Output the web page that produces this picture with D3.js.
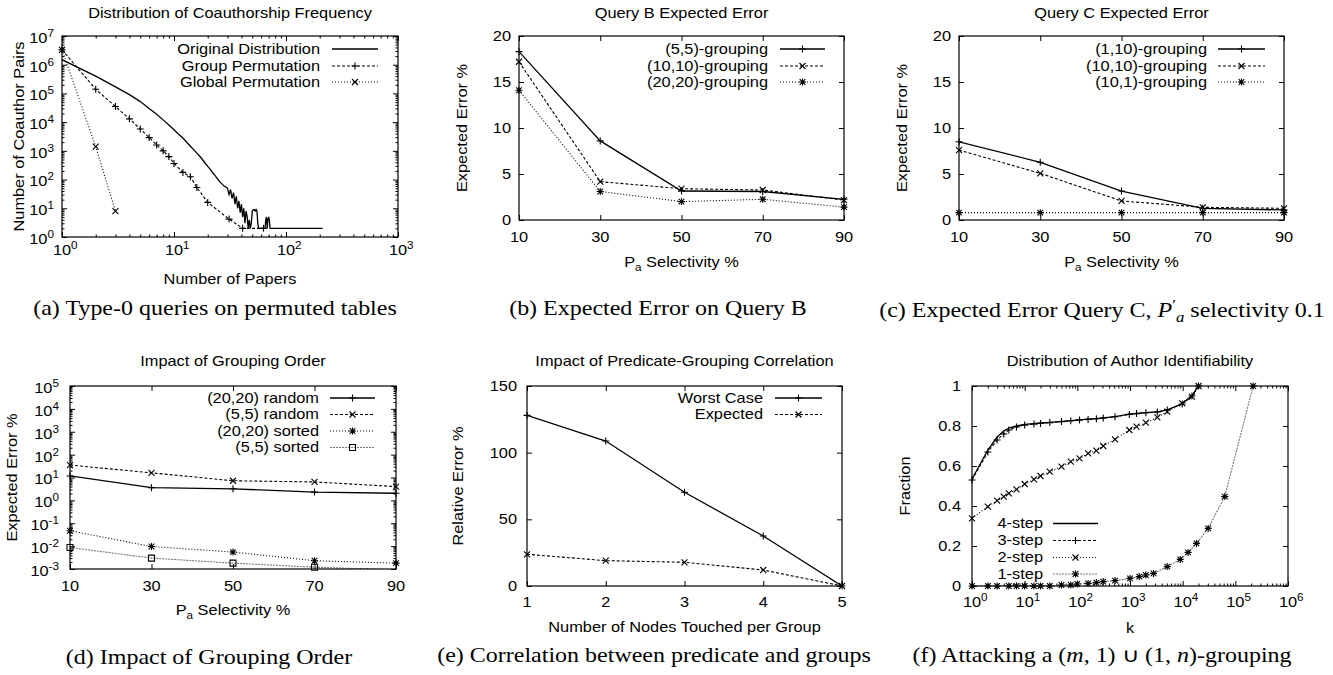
<!DOCTYPE html>
<html>
<head>
<meta charset="utf-8">
<script src="https://cdn.jsdelivr.net/npm/d3@7"></script>
<style>
body { margin: 0; background: #fff; }
svg { display: block; }
</style>
</head>
<body>
<script>
// ---- (a) coauthorship frequency
var papersOrig = [1,2,3,4,5,6,7,8,9,10,11,12,13,14,15,16,17,18,19,20,21,22,23,24,25,26,27,28,29,30,
                  31,32,33,34,35,36,37,38,39,40,41,42,43,44,45,46,47,48,49,50,51,52,53,54,55,56,57,
                  60,64,65,66,67,68,69,70,71,72,73,80,100,150,212];
var pairsOrig = [1.5e6,4.0e5,1.7e5,9.1e4,5.2e4,3.0e4,1.9e4,1.2e4,8.0e3,5.4e3,3.8e3,2.8e3,2.0e3,1.45e3,1.1e3,
                 830,650,490,370,290,230,180,145,117,95,80,68,60,55,50,
                 30,45,22,35,14,26,10,18,7,14,5,10,3,8,5,2,4,2,3,8,9,9,8,9,8,3,2,
                 2,2,2,4,5,2,4,5,4,2,2,2,2,2,2];
var papersGroup = [1,2,3,4,5,6,7,8,9,10,12,14,16,20,31,41,63];
var pairsGroup = [3.3e6,1.4e5,3.5e4,1.3e4,5.8e3,2.9e3,1.6e3,1.0e3,630,365,178,125,53,16,4.2,2,2];
var papersGlobal = [1,2,3];
var pairsGlobal = [3.3e6,1.4e3,8];

// ---- (b) query B
var selectivity = [10,30,50,70,90];
var errB55 = [18.3,8.6,3.15,3.1,2.25];
var errB1010 = [17.2,4.17,3.4,3.26,2.17];
var errB2020 = [14.1,3.1,2.0,2.25,1.4];

// ---- (c) query C
var errC110 = [8.5,6.27,3.15,1.27,1.09];
var errC1010 = [7.6,5.07,2.07,1.38,1.27];
var errC101 = [0.8,0.8,0.8,0.8,0.8];

// ---- (d) grouping order
var errD2020rand = [11.7,3.6,3.2,2.3,2.05];
var errD55rand = [35,16,7.2,6.4,4.0];
var errD2020sort = [0.047,0.0096,0.0055,0.0023,0.0018];
var errD55sort = [0.0087,0.003,0.0018,0.0012,0.00092];

// ---- (e) predicate-grouping correlation
var nodesTouched = [1,2,3,4,5];
var worstCase = [128,108.7,70.3,37.5,0];
var expectedErr = [23.8,19,17.8,12,0];

// ---- (f) author identifiability
var kSteps = [1,2,3,4,5,7,10,15,20,30,50,75,110,160,230,310,520,970,1330,2000,3300,5100,9800,15000,20000];
var frac4 = [0.535,0.68,0.745,0.775,0.79,0.80,0.808,0.812,0.815,0.818,0.823,0.827,0.831,0.834,0.837,0.841,0.847,0.859,0.863,0.867,0.871,0.881,0.911,0.951,1.0];
var frac3 = [0.53,0.67,0.73,0.76,0.78,0.795,0.805,0.81,0.813,0.817,0.822,0.826,0.83,0.833,0.836,0.84,0.846,0.858,0.862,0.866,0.87,0.88,0.91,0.95,1.0];
var frac2 = [0.338,0.397,0.427,0.447,0.463,0.483,0.51,0.533,0.55,0.572,0.597,0.622,0.638,0.663,0.677,0.70,0.733,0.78,0.797,0.817,0.843,0.872,0.913,0.947,1.0];
var kOne = [1,2,3,5,7,10,15,20,30,50,75,100,160,230,310,520,1000,1500,2000,2800,5100,9000,12700,18300,30500,63000,218000];
var frac1 = [0,0,0,0,0,0,0,0,0,0.005,0.005,0.01,0.013,0.017,0.022,0.027,0.038,0.047,0.055,0.063,0.097,0.133,0.168,0.213,0.288,0.447,1.0];

// ---- tick values
var decA_x = [1,10,100,1000];
var decA_y = [1,10,100,1e3,1e4,1e5,1e6,1e7];
var errTicks = [0,5,10,15,20];
var decD_y = [1e-3,1e-2,1e-1,1,10,100,1e3,1e4,1e5];
var relTicks = [0,50,100,150];
var decF_x = [1,10,100,1e3,1e4,1e5,1e6];
var fracTicks = [0,0.2,0.4,0.6,0.8,1];

// gnuplot text is wide: stretch in its own frame
var SX = 1.17;
var SANS = "'Liberation Sans', Arial, Helvetica, sans-serif";
var SERIF = "'Liberation Serif', 'Times New Roman', serif";

var styles = {
  lt1: {dash: null, color: "#000", width: 1.3},
  lt2: {dash: "3,2", color: "#000", width: 1.1},
  lt3: {dash: "1,2", color: "#000", width: 1.1},
  lt4: {dash: "2,1", color: "#777", width: 1.1}
};

var svg = d3.select("body").append("svg")
  .attr("width", 1333).attr("height", 675);

// text with center at (x,y)
function txt(g, x, y, o) {
  o = o || {};
  var size = o.size || 14;
  var t = g.append("text")
    .attr("transform", "translate(" + x + "," + y + ")" + (o.rot ? " rotate(" + o.rot + ")" : "") +
          " scale(" + (o.sx || SX) + ",1)")
    .attr("y", 0.35 * size)
    .attr("text-anchor", o.anchor || "middle")
    .style("font-family", o.family || SANS)
    .style("font-size", size + "px")
    .style("fill", "#000");
  if (o.text != null) t.text(o.text);
  return t;
}

function pow10(t, v) {
  var e = Math.round(Math.log10(v));
  t.append("tspan").text("10");
  t.append("tspan").attr("dy", -6).style("font-size", "10px").text(e);
}

function marker(g, type, x, y) {
  var r = 3.5, d = "";
  if (type == "plus" || type == "star") d += "M" + (x - r) + "," + y + "H" + (x + r) + "M" + x + "," + (y - r) + "V" + (y + r);
  if (type == "cross" || type == "star") {
    var q = type == "star" ? 2.8 : 3;
    d += "M" + (x - q) + "," + (y - q) + "L" + (x + q) + "," + (y + q) + "M" + (x - q) + "," + (y + q) + "L" + (x + q) + "," + (y - q);
  }
  if (type == "box") d = "M" + (x - 3) + "," + (y - 3) + "h6v6h-6z";
  g.append("path").attr("d", d).attr("fill", "none").attr("stroke", "#000").attr("stroke-width", 1.1);
}

function styleLine(p, lt) {
  var s = styles[lt];
  p.attr("fill", "none").attr("stroke", s.color).attr("stroke-width", s.width);
  if (s.dash) p.attr("stroke-dasharray", s.dash);
  return p;
}

function minors(decades) {
  var out = [];
  decades.slice(0, -1).forEach(function(d) {
    for (var m = 2; m < 10; m++) out.push(d * m);
  });
  return out;
}

function drawPanel(c) {
  var L = c.box[0], R = c.box[1], T = c.box[2], B = c.box[3];
  var g = svg.append("g");
  var x = (c.xlog ? d3.scaleLog() : d3.scaleLinear()).domain(c.xdom).range([L, R]);
  var y = (c.ylog ? d3.scaleLog() : d3.scaleLinear()).domain(c.ydom).range([B, T]);

  svg.append("clipPath").attr("id", "clip-" + c.id)
    .append("rect").attr("x", L).attr("y", T).attr("width", R - L).attr("height", B - T);

  // ticks on all four sides, pointing inward
  function tickSet(vals, len, isX) {
    var axes = isX ? [[d3.axisBottom(x), B], [d3.axisTop(x), T]] : [[d3.axisLeft(y), L], [d3.axisRight(y), R]];
    axes.forEach(function(a) {
      var ag = g.append("g")
        .attr("transform", isX ? "translate(0," + a[1] + ")" : "translate(" + a[1] + ",0)")
        .call(a[0].tickValues(vals).tickSize(-len).tickFormat(""));
      ag.select(".domain").remove();
      ag.selectAll("line").attr("stroke", "#000").attr("stroke-width", 1);
    });
  }
  tickSet(c.xticks, 5, true);
  tickSet(c.yticks, 5, false);
  if (c.xlog) tickSet(minors(c.xticks), 2.5, true);
  if (c.ylog) tickSet(minors(c.yticks), 2.5, false);

  // tick labels
  c.xticks.forEach(function(v) {
    var t = txt(g, x(v), c.xlabY, {anchor: c.xlog ? "start" : "middle"});
    if (c.xlog) {
      pow10(t, v);
      var w = t.select("tspan").node().getComputedTextLength();
      t.attr("x", -w / 2);
    } else {
      t.text(c.xfmt ? c.xfmt(v) : v);
    }
  });
  c.yticks.forEach(function(v) {
    var t = txt(g, L - c.ygap, y(v) + (c.ylog ? 2 : 0), {anchor: "end"});
    if (c.ylog) pow10(t, v); else t.text(c.yfmt ? c.yfmt(v) : v);
  });

  // series
  c.series.forEach(function(s) {
    var pts = s.x.map(function(d, i) { return [x(d), y(s.y[i])]; });
    styleLine(g.append("path").attr("d", d3.line()(pts)).attr("clip-path", "url(#clip-" + c.id + ")"), s.lt);
    if (s.mark) {
      pts.forEach(function(p) {
        if (p[1] <= B + 0.5 && p[1] >= T - 0.5) marker(g, s.mark, p[0], p[1]);
      });
    }
  });

  // border
  g.append("rect").attr("x", L).attr("y", T).attr("width", R - L).attr("height", B - T)
    .attr("fill", "none").attr("stroke", "#000").attr("stroke-width", 1.2);

  // legend
  c.series.forEach(function(s, i) {
    var ly = c.legend.rows[i];
    txt(g, c.legend.right, ly, {anchor: "end", text: s.name});
    var s1 = c.legend.sample[0], s2 = c.legend.sample[1];
    styleLine(g.append("line").attr("x1", s1).attr("x2", s2).attr("y1", ly).attr("y2", ly), s.lt);
    if (s.mark) marker(g, s.mark, (s1 + s2) / 2, ly);
  });

  // title, axis labels, caption
  txt(g, (L + R) / 2, c.titleY, {text: c.title});
  var xl = txt(g, (L + R) / 2, c.xtitleY, {});
  if (c.xtitle == "Pa") {
    xl.append("tspan").text("P");
    xl.append("tspan").attr("dy", 4).style("font-size", "10px").text("a");
    xl.append("tspan").attr("dy", -4).text(" Selectivity %");
  } else xl.text(c.xtitle);
  txt(g, c.ytitleX, (T + B) / 2, {rot: -90, text: c.ytitle});

  var cap = txt(g, c.cap[0], c.cap[1], {family: SERIF, size: 20, sx: 1.2});
  c.caption.forEach(function(part) {
    var sp = cap.append("tspan").text(part[0]);
    if (part[1] == "i") sp.style("font-style", "italic");
    if (part[1] == "sup") sp.style("font-size", "14px").attr("dy", -7);
    if (part[1] == "sub") sp.style("font-style", "italic").style("font-size", "14px").attr("dy", 12);
    if (part[1] == "back") sp.attr("dy", -5);
  });
}

drawPanel({
  id: "a", box: [62, 398, 36, 237], xlog: true, ylog: true,
  xdom: [1, 1000], ydom: [1, 1e7], xticks: decA_x, yticks: decA_y,
  xlabY: 250, ygap: 8,
  title: "Distribution of Coauthorship Frequency", titleY: 13,
  xtitle: "Number of Papers", xtitleY: 279,
  ytitle: "Number of Coauthor Pairs", ytitleX: 19,
  series: [
    {name: "Original Distribution", x: papersOrig, y: pairsOrig, lt: "lt1"},
    {name: "Group Permutation", x: papersGroup, y: pairsGroup, lt: "lt2", mark: "plus"},
    {name: "Global Permutation", x: papersGlobal, y: pairsGlobal, lt: "lt3", mark: "cross"}
  ],
  legend: {right: 320, rows: [49, 66, 82], sample: [332, 378]},
  cap: [215, 308], caption: [["(a) Type-0 queries on permuted tables"]]
});

drawPanel({
  id: "b", box: [519, 844, 36, 220],
  xdom: [10, 90], ydom: [0, 20], xticks: selectivity, yticks: errTicks,
  xlabY: 237, ygap: 8,
  title: "Query B Expected Error", titleY: 13,
  xtitle: "Pa", xtitleY: 262,
  ytitle: "Expected Error %", ytitleX: 462,
  series: [
    {name: "(5,5)-grouping", x: selectivity, y: errB55, lt: "lt1", mark: "plus"},
    {name: "(10,10)-grouping", x: selectivity, y: errB1010, lt: "lt2", mark: "cross"},
    {name: "(20,20)-grouping", x: selectivity, y: errB2020, lt: "lt3", mark: "star"}
  ],
  legend: {right: 768, rows: [49, 66, 82], sample: [780, 825]},
  cap: [658, 308], caption: [["(b) Expected Error on Query B"]]
});

drawPanel({
  id: "c", box: [959, 1284, 36, 220],
  xdom: [10, 90], ydom: [0, 20], xticks: selectivity, yticks: errTicks,
  xlabY: 237, ygap: 8,
  title: "Query C Expected Error", titleY: 13,
  xtitle: "Pa", xtitleY: 262,
  ytitle: "Expected Error %", ytitleX: 902,
  series: [
    {name: "(1,10)-grouping", x: selectivity, y: errC110, lt: "lt1", mark: "plus"},
    {name: "(10,10)-grouping", x: selectivity, y: errC1010, lt: "lt2", mark: "cross"},
    {name: "(10,1)-grouping", x: selectivity, y: errC101, lt: "lt3", mark: "star"}
  ],
  legend: {right: 1207, rows: [49, 66, 82], sample: [1218, 1265]},
  cap: [1102, 310],
  caption: [["(c) Expected Error Query C, "], ["P", "i"], ["\u2032", "sup"], ["a", "sub"], [" selectivity 0.1", "back"]]
});

drawPanel({
  id: "d", box: [70, 396, 386, 569], ylog: true,
  xdom: [10, 90], ydom: [1e-3, 1e5], xticks: selectivity, yticks: decD_y,
  xlabY: 586, ygap: 11,
  title: "Impact of Grouping Order", titleY: 361,
  xtitle: "Pa", xtitleY: 610,
  ytitle: "Expected Error %", ytitleX: 12,
  series: [
    {name: "(20,20) random", x: selectivity, y: errD2020rand, lt: "lt1", mark: "plus"},
    {name: "(5,5) random", x: selectivity, y: errD55rand, lt: "lt2", mark: "cross"},
    {name: "(20,20) sorted", x: selectivity, y: errD2020sort, lt: "lt3", mark: "star"},
    {name: "(5,5) sorted", x: selectivity, y: errD55sort, lt: "lt4", mark: "box"}
  ],
  legend: {right: 319, rows: [398, 414.5, 431, 447.5], sample: [330, 375]},
  cap: [209, 657], caption: [["(d) Impact of Grouping Order"]]
});

drawPanel({
  id: "e", box: [527, 842, 386, 586],
  xdom: [1, 5], ydom: [0, 150], xticks: nodesTouched, yticks: relTicks,
  xlabY: 602, ygap: 10,
  title: "Impact of Predicate-Grouping Correlation", titleY: 361,
  xtitle: "Number of Nodes Touched per Group", xtitleY: 627,
  ytitle: "Relative Error %", ytitleX: 458,
  series: [
    {name: "Worst Case", x: nodesTouched, y: worstCase, lt: "lt1", mark: "plus"},
    {name: "Expected", x: nodesTouched, y: expectedErr, lt: "lt2", mark: "cross"}
  ],
  legend: {right: 763, rows: [398, 414.5], sample: [775, 822]},
  cap: [654, 655], caption: [["(e) Correlation between predicate and groups"]]
});

drawPanel({
  id: "f", box: [972, 1288, 386, 586], xlog: true,
  xdom: [1, 1e6], ydom: [0, 1], xticks: decF_x, yticks: fracTicks,
  xlabY: 602, ygap: 11,
  yfmt: function(v) { return String(v); },
  title: "Distribution of Author Identifiability", titleY: 361,
  xtitle: "k", xtitleY: 628,
  ytitle: "Fraction", ytitleX: 905,
  series: [
    {name: "4-step", x: kSteps, y: frac4, lt: "lt1"},
    {name: "3-step", x: kSteps, y: frac3, lt: "lt2", mark: "plus"},
    {name: "2-step", x: kSteps, y: frac2, lt: "lt3", mark: "cross"},
    {name: "1-step", x: kOne, y: frac1, lt: "lt4", mark: "star"}
  ],
  legend: {right: 1043, rows: [523.5, 540.5, 557.5, 574], sample: [1053, 1098]},
  cap: [1102, 655],
  caption: [["(f) Attacking a ("], ["m", "i"], [", 1) \u222A (1, "], ["n", "i"], [")-grouping"]]
});
</script>
</body>
</html>
